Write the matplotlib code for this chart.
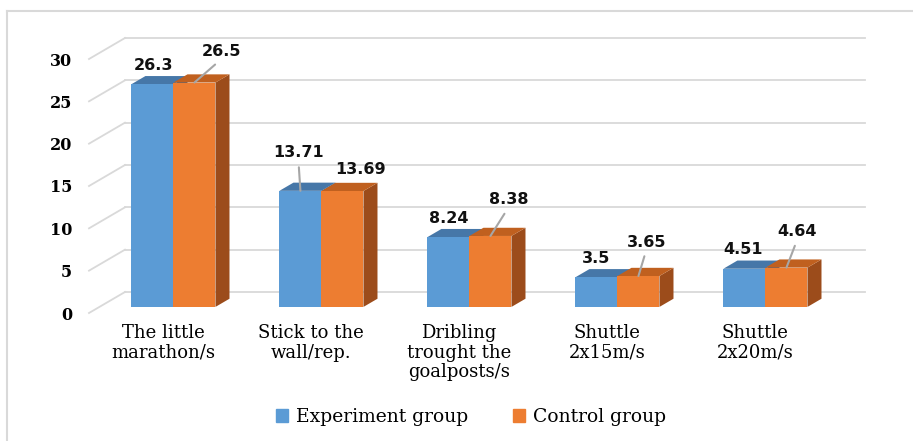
import matplotlib.pyplot as plt
from matplotlib.lines import Line2D
from matplotlib.patches import Patch

categories = ['The little\nmarathon/s', 'Stick to the\nwall/rep.',
              'Dribling\ntrought the\ngoalposts/s', 'Shuttle\n2x15m/s', 'Shuttle\n2x20m/s']
experiment = [26.3, 13.71, 8.24, 3.5, 4.51]
control = [26.5, 13.69, 8.38, 3.65, 4.64]
series_names = ['Experiment group', 'Control group']
yticks = [0, 5, 10, 15, 20, 25, 30]

# label offsets in pixels from the bar top (manual placement like the original)
exp_offsets = [(1, 19), (-2, 38), (0, 19), (0, 19), (-1, 19)]
ctl_offsets = [(27, 31), (18, 22), (18, 36), (8, 34), (11, 36)]
exp_leader = [False, True, False, False, False]
ctl_leader = [True, False, True, True, True]

blue = ('#5B9BD5', '#4677A8', '#3B6590')
orange = ('#ED7D31', '#C0601F', '#9C4C1B')
grid_col = '#D9D9D9'

W, H = 913, 441
fig = plt.figure(figsize=(W / 100, H / 100), dpi=100)
ax = fig.add_axes([89 / W, 1 - 313 / H, 740 / W, 254 / H])
ax.set_xlim(-0.5, 4.5)
ax.set_ylim(0, 30)
ax.patch.set_alpha(0)
for s in ax.spines.values():
    s.set_visible(False)

# depth of the 3D box in data units
DX, DY = 0.243, 2.48
D0, D1 = 0.29, 0.68
BW = 0.284


def p(x, y, d):
    return (x + d * DX, y + d * DY)


# back wall and side wall grid
for v in yticks:
    ax.plot([-0.5 + DX, 4.5 + DX], [v + DY, v + DY], color=grid_col, lw=1.3, clip_on=False, zorder=1)
    ax.plot([-0.5, -0.5 + DX], [v, v + DY], color=grid_col, lw=1.3, clip_on=False, zorder=1)


def draw_bar(x0, v, cols):
    front = [p(x0, 0, D0), p(x0 + BW, 0, D0), p(x0 + BW, v, D0), p(x0, v, D0)]
    top = [p(x0, v, D0), p(x0 + BW, v, D0), p(x0 + BW, v, D1), p(x0, v, D1)]
    side = [p(x0 + BW, 0, D0), p(x0 + BW, 0, D1), p(x0 + BW, v, D1), p(x0 + BW, v, D0)]
    for poly, c in zip([side, top, front], [cols[2], cols[1], cols[0]]):
        xs, ys = zip(*poly)
        ax.fill(xs, ys, color=c, lw=0, clip_on=False, zorder=3)


def label(x, v, off, leader):
    xy = p(x, v, D0)
    kw = dict(arrowprops=dict(arrowstyle='-', color='#A6A6A6', lw=1.5,
                              shrinkA=3, shrinkB=0, relpos=(0.5, 0))) if leader else {}
    ax.annotate(f'{v:g}', xy=xy, xytext=off, textcoords='offset pixels',
                ha='center', va='center', fontsize=11.5, fontweight='bold',
                family='DejaVu Sans', color='#111111', zorder=5, annotation_clip=False, **kw)


for i in range(len(categories)):
    draw_bar(i - BW, experiment[i], blue)
    draw_bar(i, control[i], orange)

for i in range(len(categories)):
    label(i - BW / 2, experiment[i], exp_offsets[i], exp_leader[i])
    label(i + BW / 2, control[i], ctl_offsets[i], ctl_leader[i])

ax.set_yticks(yticks)
ax.set_yticklabels([str(t) for t in yticks], family='DejaVu Serif', fontweight='bold', fontsize=11.5)
ax.set_xticks(range(len(categories)))
ax.set_xticklabels(categories, family='DejaVu Serif', fontsize=13, linespacing=1.1)
ax.tick_params(axis='y', length=0, pad=12)
ax.tick_params(axis='x', length=0, pad=8)

handles = [Patch(color=blue[0]), Patch(color=orange[0])]
fig.legend(handles, series_names, loc='center', bbox_to_anchor=(471 / W, 1 - 417 / H), ncol=2,
           frameon=False, handlelength=0.65, handleheight=0.65, handletextpad=0.4,
           columnspacing=2.4, prop=dict(family='DejaVu Serif', size=13.5))

# chart frame
fig.add_artist(Line2D([7 / W, 7 / W], [0, 1 - 11 / H], color=grid_col, lw=1.5))
fig.add_artist(Line2D([7 / W, 1], [1 - 11 / H, 1 - 11 / H], color=grid_col, lw=1.5))

fig.savefig('out.png', dpi=100)
